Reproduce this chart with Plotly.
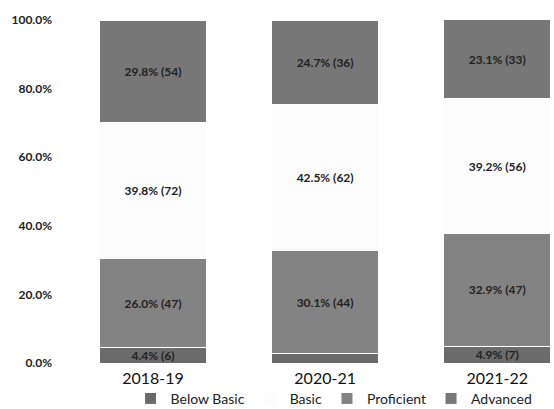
import plotly.graph_objects as go

years = ["2018-19", "2020-21", "2021-22"]

# stacking order bottom -> top as drawn in the reference
below_basic_pct = [4.4, 2.7, 4.9]
below_basic_n = [6, 4, 7]
proficient_pct = [26.0, 30.1, 32.9]
proficient_n = [47, 44, 47]
basic_pct = [39.8, 42.5, 39.2]
basic_n = [72, 62, 56]
advanced_pct = [29.8, 24.7, 23.1]
advanced_n = [54, 36, 33]

ytick_vals = [0, 20, 40, 60, 80, 100]
ytick_text = ["0.0%", "20.0%", "40.0%", "60.0%", "80.0%", "100.0%"]

series = [
    ("Below Basic", below_basic_pct, below_basic_n, "#6b6b6b", 1),
    ("Proficient", proficient_pct, proficient_n, "#838383", 3),
    ("Basic", basic_pct, basic_n, "#fcfcfc", 2),
    ("Advanced", advanced_pct, advanced_n, "#777777", 4),
]

fig = go.Figure()
for name, pct, n, color, rank in series:
    labels = [f"{p:.1f}% ({c})" if p >= 3 else "" for p, c in zip(pct, n)]
    fig.add_trace(go.Bar(
        x=years, y=pct, name=name, width=0.62,
        marker=dict(color=color, line=dict(color="white", width=1)),
        text=labels, textposition="inside", insidetextanchor="middle",
        textangle=0, constraintext="none",
        textfont=dict(family="Lato", size=12, color="#222222", weight="bold"),
        legendrank=rank, hoverinfo="skip",
    ))

fig.update_layout(
    barmode="stack",
    width=554, height=409,
    margin=dict(l=67, r=0, t=20, b=46),
    paper_bgcolor="white", plot_bgcolor="white",
    font=dict(family="Lato", color="#222222"),
    showlegend=True,
    legend=dict(
        orientation="h", xref="container", yref="container",
        x=0.603, xanchor="center", y=0.064, yanchor="top",
        font=dict(family="Lato", size=14, color="#222222"),
        itemclick=False, traceorder="normal",
        bgcolor="rgba(0,0,0,0)",
    ),
    xaxis=dict(
        range=[-0.5, 2.33], showgrid=False, showline=False, zeroline=False,
        tickfont=dict(family="Lato", size=16, color="#111111"),
        ticks="", ticklabelstandoff=4, automargin=False,
    ),
    yaxis=dict(
        range=[0, 100], tickvals=ytick_vals, ticktext=ytick_text,
        showgrid=False, showline=False, zeroline=False, ticks="",
        tickfont=dict(family="Lato", size=12, color="#222222", weight="bold"),
        ticklabelstandoff=14, automargin=False,
    ),
)

fig.write_html(
    "out.html",
    config={"displayModeBar": False},
    post_script="document.body.style.margin='0';document.body.style.overflow='hidden';",
)
